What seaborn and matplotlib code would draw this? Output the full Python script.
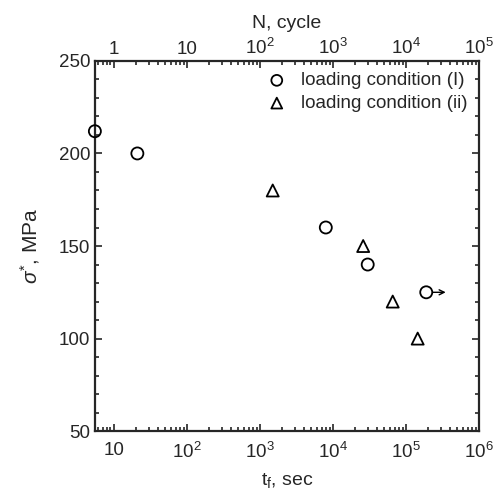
import numpy as np
import pandas as pd
import matplotlib
matplotlib.use('Agg')
import matplotlib.pyplot as plt
import matplotlib.ticker as mt
import seaborn as sns

# data
cond1_t=[5.5,21,8000,30000,190000]
cond1_s=[212,200,160,140,125]
cond2_t=[1500,26000,66000,145000]
cond2_s=[180,150,120,100]
cond_labels=['loading condition (I)','loading condition (ii)']
xticks_bottom=[10,1e2,1e3,1e4,1e5,1e6]
xticks_top=[1,10,1e2,1e3,1e4,1e5]
yticks=[50,100,150,200,250]

df=pd.DataFrame({'t':cond1_t+cond2_t,
                 's':cond1_s+cond2_s,
                 'cond':[cond_labels[0]]*len(cond1_t)+[cond_labels[1]]*len(cond2_t)})

sns.set_theme(style='ticks')
plt.rcParams['font.family']=['Liberation Sans','DejaVu Sans']
plt.rcParams['mathtext.fontset']='custom'
plt.rcParams['mathtext.rm']='Liberation Sans'
plt.rcParams['mathtext.it']='Liberation Sans:italic'

fig=plt.figure(figsize=(5.02,4.95),dpi=100)
ax=fig.add_axes([0.189,0.129,0.765,0.748])

markers={cond_labels[0]:'o',cond_labels[1]:'^'}
for lab in cond_labels:
    sub=df[df['cond']==lab]
    sns.scatterplot(data=sub,x='t',y='s',marker=markers[lab],s=75,
                    facecolors='none',edgecolor='black',linewidth=1.3,
                    clip_on=False,zorder=5,label=lab,ax=ax)

# run-out arrow on the last circle
ax.annotate('',xy=(cond1_t[-1],cond1_s[-1]),xytext=(14,0),textcoords='offset points',
            arrowprops=dict(arrowstyle='<-,head_length=0.3,head_width=0.15',color='black',
                            lw=1.0,shrinkA=0,shrinkB=4.5))

ax.set_xscale('log')
ax.set_xlim(5.5,1e6)
ax.set_ylim(50,250)
ax.set_yticks(yticks)
ax.yaxis.set_minor_locator(mt.MultipleLocator(10))

def logfmt(v,pos=None):
    if v<=1.5:
        return '1'
    if v<=15:
        return '10'
    return r'$10^{%d}$'%int(round(np.log10(v)))

ax.set_xticks(xticks_bottom)
ax.xaxis.set_major_formatter(mt.FuncFormatter(logfmt))
ax.xaxis.set_minor_locator(mt.LogLocator(base=10,subs=np.arange(2,10),numticks=20))
ax.xaxis.set_minor_formatter(mt.NullFormatter())

ax.tick_params(which='both',direction='in',top=False,right=True,labelsize=13.5,width=1.2)
ax.tick_params(axis='x',which='major',pad=8)
ax.tick_params(which='major',length=5)
ax.tick_params(which='minor',length=3)
for sp in ax.spines.values():
    sp.set_linewidth(1.6)

sec=ax.secondary_xaxis('top',functions=(lambda t:t/10,lambda n:n*10))
sec.set_xticks(xticks_top)
sec.xaxis.set_major_formatter(mt.FuncFormatter(logfmt))
sec.xaxis.set_minor_locator(mt.LogLocator(base=10,subs=np.arange(2,10),numticks=20))
sec.xaxis.set_minor_formatter(mt.NullFormatter())
sec.tick_params(which='both',direction='in',labelsize=13.5,width=1.2,pad=2)
sec.tick_params(which='major',length=5)
sec.tick_params(which='minor',length=3)
sec.set_xlabel('N, cycle',fontsize=14,labelpad=7)

ax.set_xlabel(r't$_\mathrm{f}$, sec',fontsize=14,labelpad=6)
ax.set_ylabel(r'$\sigma^{*}$, MPa',fontsize=15,labelpad=12)

ax.legend(loc='upper right',frameon=False,fontsize=13.5,handletextpad=0.3,
          borderaxespad=0.2,labelspacing=0.3,markerscale=0.9)

fig.savefig('out.png',dpi=100)
